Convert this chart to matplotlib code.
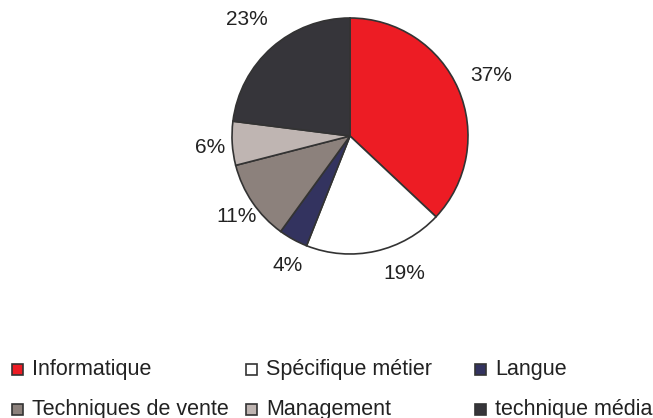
import numpy as np
import matplotlib
matplotlib.use('Agg')
import matplotlib.pyplot as plt
from matplotlib.patches import Rectangle

plt.rcParams['font.family'] = ['Liberation Sans', 'DejaVu Sans']

# données
categories = ['Informatique', 'Spécifique métier', 'Langue',
              'Techniques de vente', 'Management', 'technique média']
values = [37, 19, 4, 11, 6, 23]
colors = ['#ED1C24', '#FFFFFF', '#33335F', '#8C817C', '#BFB5B2', '#36353A']

W, H = 653, 418
fig = plt.figure(figsize=(W / 100, H / 100), dpi=100)

# axe du camembert : centre (350, 136), rayon 118 px
cx, cy, r = 350, 136, 118
ax = fig.add_axes([(cx - r) / W, (H - cy - r) / H, 2 * r / W, 2 * r / H])
wedges, _ = ax.pie(values, colors=colors, startangle=90, counterclock=False,
                   wedgeprops=dict(edgecolor='#333333', linewidth=1.2))
ax.set_xlim(-1, 1)
ax.set_ylim(-1, 1)
ax.axis('off')

# étiquettes en pourcentage
label_dist = [1.30, 1.25, 1.22, 1.18, 1.19, 1.32]
angle_shift = [0, 9, 3, 1, 1, 0]
for w, v, d, s in zip(wedges, values, label_dist, angle_shift):
    theta = np.deg2rad((w.theta1 + w.theta2) / 2 + s)
    ax.text(d * np.cos(theta), d * np.sin(theta), f'{v}%',
            ha='center', va='center', fontsize=15, color='#222222',
            clip_on=False)

# légende manuelle (2 lignes x 3 colonnes)
col_x = [12, 246, 475]
row_y = [369, 409]
for i, (lab, c) in enumerate(zip(categories, colors)):
    x = col_x[i % 3]
    y = row_y[i // 3]
    fig.patches.append(Rectangle((x / W, (H - y - 5.5) / H), 11 / W, 11 / H,
                                 transform=fig.transFigure, facecolor=c,
                                 edgecolor='#333333', linewidth=1.2))
    fig.text((x + 20) / W, (H - y) / H, lab, ha='left', va='center',
             fontsize=15.5, color='#222222')

fig.savefig('out.png', dpi=100)
